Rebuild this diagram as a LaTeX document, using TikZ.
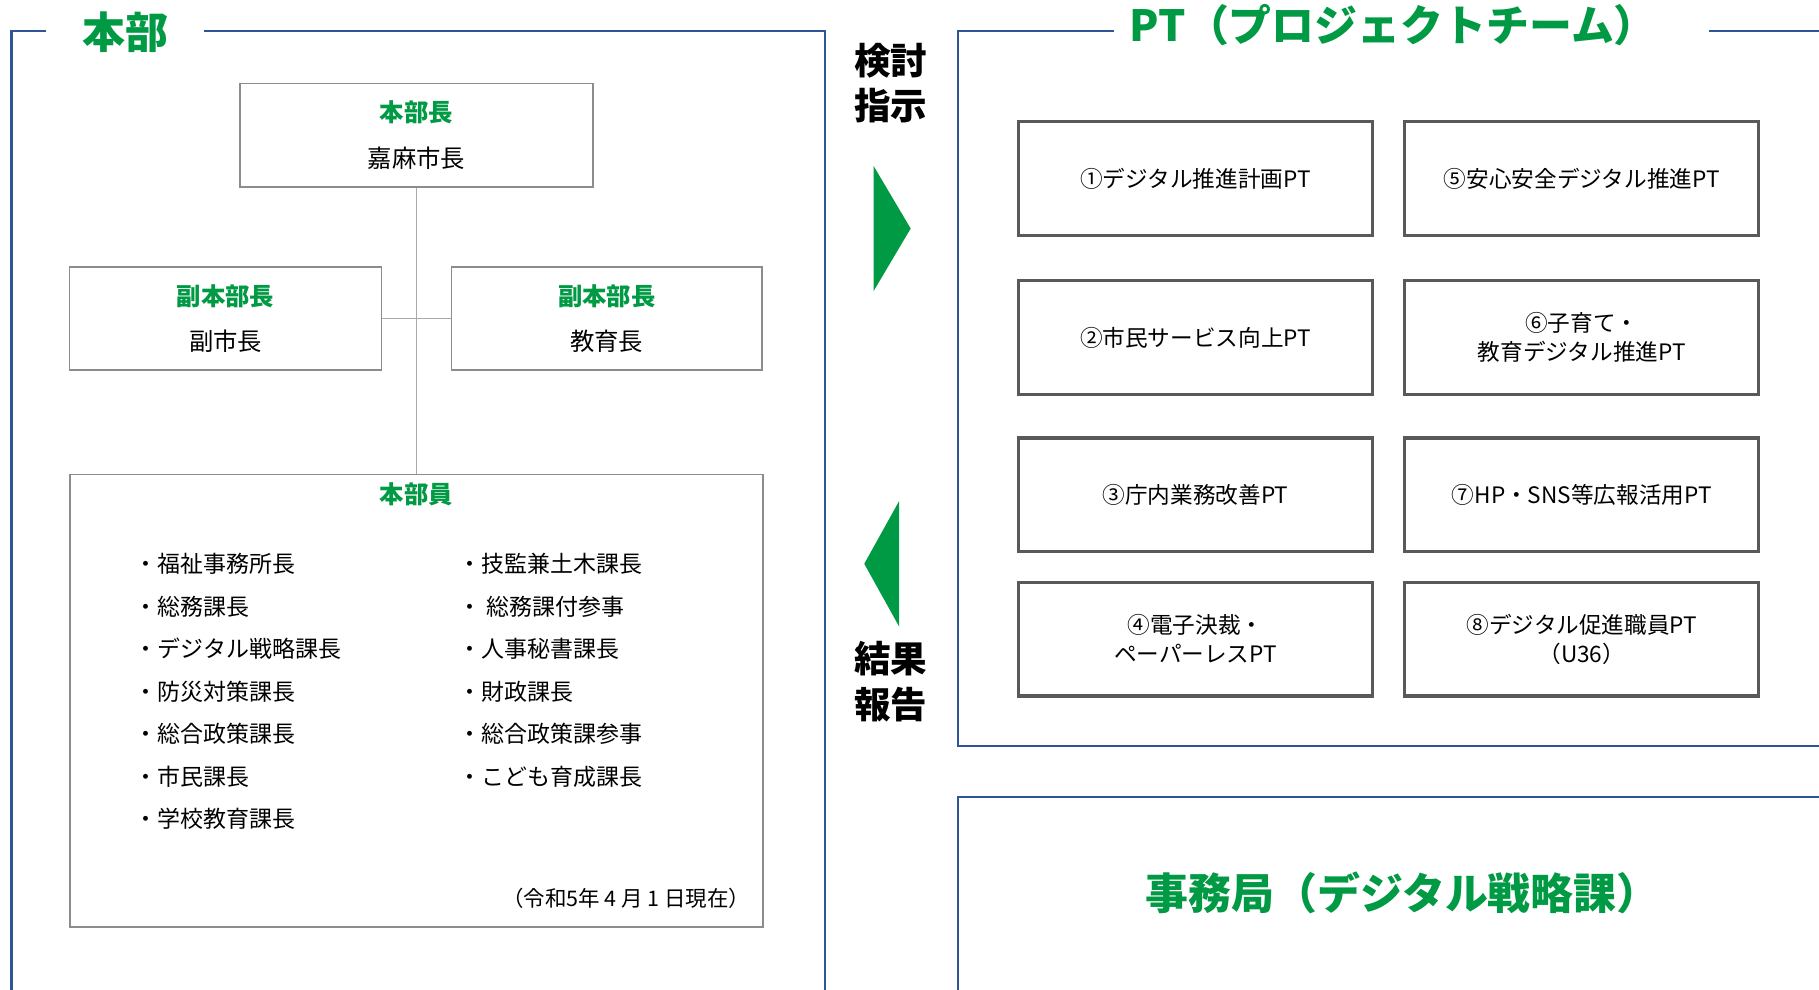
\documentclass[tikz,border=0pt]{standalone}
\usepackage{fontspec}
\setmainfont{Noto Sans CJK JP}
\definecolor{rahmenblau}{RGB}{47,85,151}
\definecolor{gruen}{RGB}{0,153,68}
\definecolor{kastengrau}{RGB}{140,140,140}
\definecolor{ptgrau}{RGB}{89,89,89}
\definecolor{liniengrau}{RGB}{170,170,170}

\begin{document}
\begin{tikzpicture}
	[
	x=1pt, y=-1pt,
	%Voreinstellungen
	rahmen/.style={draw=rahmenblau, line width=2pt},
	titel/.style={text=gruen, font=\bfseries\fontsize{37}{40}\selectfont},
	kasten/.style={draw=kastengrau, line width=1.3pt, fill=white, align=center, inner sep=0pt, font=\fontsize{21}{39}\selectfont},
	ptkasten/.style={draw=ptgrau, line width=2.8pt, minimum width=305pt, minimum height=98pt, align=center, inner sep=0pt, font=\fontsize{19.5}{25}\selectfont},
	eintrag/.style={anchor=west, inner sep=0pt, font=\fontsize{19.8}{22}\selectfont},
	pfeiltext/.style={align=center, font=\bfseries\fontsize{31.5}{39}\selectfont},
	verbinder/.style={draw=liniengrau, line width=1pt}
	]

	%Bildausschnitt
	\useasboundingbox (0,0) rectangle (1568,853);
	\clip (0,0) rectangle (1568,853);

	%Rahmen Hauptquartier
	\draw[rahmen] (40,27) -- (10,27) -- (10,870);
	\draw[rahmen] (176,27) -- (711,27) -- (711,870);
	\node[titel] (hq) at (108,28) {本部};

	%Rahmen PT
	\draw[rahmen] (960,27) -- (826,27) -- (826,643) -- (1590,643);
	\draw[rahmen] (1473,27) -- (1590,27);
	\node[titel] (pt) at (1201,22) {PT（プロジェクトチーム）};

	%Rahmen Sekretariat
	\draw[rahmen] (1590,687) -- (826,687) -- (826,870);
	\node[titel] (sek) at (1209,770) {事務局（デジタル戦略課）};

	%Leitung
	\node[kasten, minimum width=304pt, minimum height=89pt] (chef) at (359,116.5) {{\bfseries\color{gruen}本部長}\\嘉麻市長};
	\node[kasten, minimum width=269pt, minimum height=89pt] (vize1) at (194.5,274.5) {{\bfseries\color{gruen}副本部長}\\副市長};
	\node[kasten, minimum width=268pt, minimum height=89pt] (vize2) at (523,274.5) {{\bfseries\color{gruen}副本部長}\\教育長};
	\node[kasten, minimum width=597pt, minimum height=390pt] (mitgl) at (359,604) {};
	\node[text=gruen, font=\bfseries\fontsize{21}{24}\selectfont] (mitgltitel) at (359,426) {本部員};

	%Verbindungen
	\draw[verbinder] (chef.south) -- (mitgl.north);
	\draw[verbinder] (vize1.east) -- (vize2.west);

	%Mitglieder links
	\node[eintrag] (l1) at (116,486) {・福祉事務所長};
	\node[eintrag] (l2) at (116,522.7) {・総務課長};
	\node[eintrag] (l3) at (116,559.3) {・デジタル戦略課長};
	\node[eintrag] (l4) at (116,596) {・防災対策課長};
	\node[eintrag] (l5) at (116,632.7) {・総合政策課長};
	\node[eintrag] (l6) at (116,669.3) {・市民課長};
	\node[eintrag] (l7) at (116,706) {・学校教育課長};

	%Mitglieder rechts
	\node[eintrag] (r1) at (395,486) {・技監兼土木課長};
	\node[eintrag] (r2) at (395,522.7) {・ 総務課付参事};
	\node[eintrag] (r3) at (395,559.3) {・人事秘書課長};
	\node[eintrag] (r4) at (395,596) {・財政課長};
	\node[eintrag] (r5) at (395,632.7) {・総合政策課参事};
	\node[eintrag] (r6) at (395,669.3) {・こども育成課長};

	%Stand
	\node[anchor=east, inner sep=0pt, font=\fontsize{18.5}{20}\selectfont] (stand) at (647,774) {（令和5年\ 4\ 月\ 1\ 日現在）};

	%Pfeil Auftrag
	\fill[gruen] (753,143) -- (785,197) -- (753,251) -- cycle;
	\node[pfeiltext] (auftrag) at (768,71.5) {検討\\指示};

	%Pfeil Bericht
	\fill[gruen] (775,432) -- (745,486) -- (775,540) -- cycle;
	\node[pfeiltext] (bericht) at (768,587.5) {結果\\報告};

	%Projektteams
	\node[ptkasten] (pt1) at (1030.5,154) {①デジタル推進計画PT};
	\node[ptkasten] (pt2) at (1030.5,291) {②市民サービス向上PT};
	\node[ptkasten] (pt3) at (1030.5,426.5) {③庁内業務改善PT};
	\node[ptkasten] (pt4) at (1030.5,551) {④電子決裁・\\ペーパーレスPT};
	\node[ptkasten] (pt5) at (1363.5,154) {⑤安心安全デジタル推進PT};
	\node[ptkasten] (pt6) at (1363.5,291) {⑥子育て・\\教育デジタル推進PT};
	\node[ptkasten] (pt7) at (1363.5,426.5) {⑦HP・SNS等広報活用PT};
	\node[ptkasten] (pt8) at (1363.5,551) {⑧デジタル促進職員PT\\（U36）};
\end{tikzpicture}
\end{document}
